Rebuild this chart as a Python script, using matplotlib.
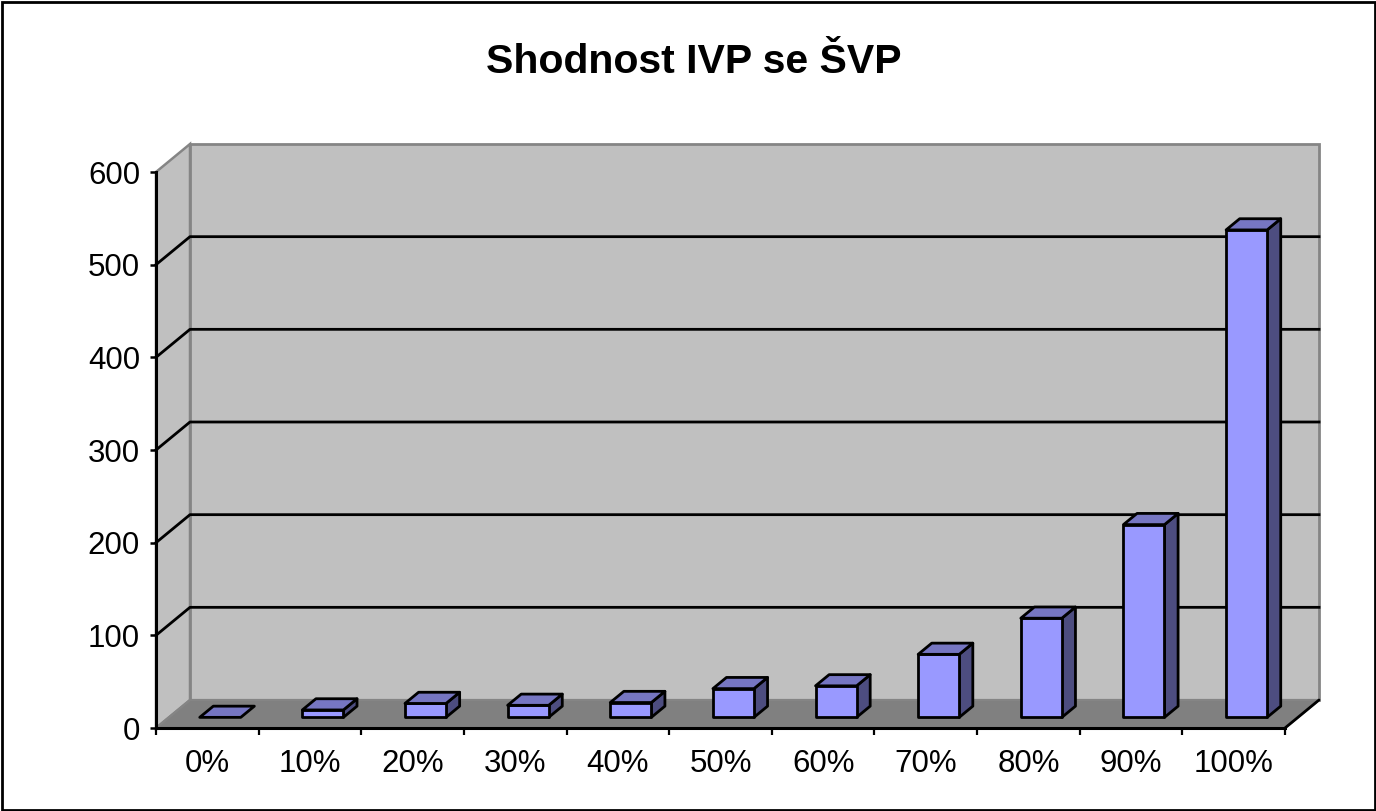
import matplotlib
matplotlib.use("Agg")
import matplotlib.pyplot as plt
from matplotlib.patches import Polygon, Rectangle

# ---- data ----
categories = ["0%", "10%", "20%", "30%", "40%", "50%", "60%", "70%", "80%", "90%", "100%"]
values = [0, 8, 15, 13, 16, 31, 34, 68, 107, 208, 526]
y_ticks = [0, 100, 200, 300, 400, 500, 600]
title = "Shodnost IVP se ŠVP"

# ---- style ----
plt.rcParams['font.family'] = ['Liberation Sans', 'DejaVu Sans']
W, H = 1376, 811
FRONT_C = "#9999FF"
TOP_C = "#7676C2"
SIDE_C = "#4D4D80"
WALL_C = "#C0C0C0"
FLOOR_C = "#808080"
EDGE_GRAY = "#858585"

fig = plt.figure(figsize=(W / 100, H / 100), dpi=100)
fig.patch.set_facecolor("white")

# front plane of the plot in pixels
x0, x1, ytop, ybot = 156, 1285, 172, 728
ax = fig.add_axes([x0 / W, (H - ybot) / H, (x1 - x0) / W, (ybot - ytop) / H])
n = len(categories)
ymax = y_ticks[-1]
ax.set_xlim(0, n)
ax.set_ylim(0, ymax)
ax.set_facecolor("none")

# depth offset (pixels -> data units)
px_per_cat = (x1 - x0) / n
px_per_val = (ybot - ytop) / ymax
DX = 34 / px_per_cat
DY = 28 / px_per_val

# walls
left_wall = Polygon([(0, 0), (0, ymax), (DX, ymax + DY), (DX, DY)], closed=True,
                    facecolor=WALL_C, edgecolor=EDGE_GRAY, lw=1.8, clip_on=False, zorder=1)
back_wall = Polygon([(DX, DY), (DX, ymax + DY), (n + DX, ymax + DY), (n + DX, DY)], closed=True,
                    facecolor=WALL_C, edgecolor=EDGE_GRAY, lw=2.0, clip_on=False, zorder=1)
floor = Polygon([(0, 0), (n, 0), (n + DX, DY), (DX, DY)], closed=True,
                facecolor=FLOOR_C, edgecolor=EDGE_GRAY, lw=1.6, clip_on=False, zorder=1.5)
for p in (left_wall, back_wall, floor):
    ax.add_patch(p)
ax.plot([n, n + DX], [0, DY], color="black", lw=2.0, clip_on=False, zorder=2,
        solid_capstyle="round")

# gridlines
for v in y_ticks[1:-1]:
    ax.plot([0, DX, n + DX], [v, v + DY, v + DY], color="black", lw=2.0,
            clip_on=False, zorder=2)

# bars
f0, f1 = 0.38, 0.78
bw = 0.4
for i, v in enumerate(values):
    xl = i + 0.5 - bw / 2 + f0 * DX
    xr = xl + bw
    yb = f0 * DY
    yt = v + f0 * DY
    ddx = (f1 - f0) * DX
    ddy = (f1 - f0) * DY
    kw = dict(closed=True, edgecolor="black", lw=2.0, joinstyle="round",
              clip_on=False, zorder=3 + i * 0.01)
    if v > 0:
        ax.add_patch(Polygon([(xr, yb), (xr + ddx, yb + ddy), (xr + ddx, yt + ddy), (xr, yt)],
                             facecolor=SIDE_C, **kw))
        ax.add_patch(Polygon([(xl, yb), (xr, yb), (xr, yt), (xl, yt)],
                             facecolor=FRONT_C, **kw))
    ax.add_patch(Polygon([(xl, yt), (xr, yt), (xr + ddx, yt + ddy), (xl + ddx, yt + ddy)],
                         facecolor=TOP_C, **kw))

# axes / ticks
for s in ("top", "right"):
    ax.spines[s].set_visible(False)
for s in ("left", "bottom"):
    ax.spines[s].set_color("black")
    ax.spines[s].set_linewidth(2.2)
    ax.spines[s].set_zorder(4)
ax.set_yticks(y_ticks)
ax.set_yticklabels([str(t) for t in y_ticks], fontsize=22.5)
ax.tick_params(axis="y", direction="out", length=4.5, width=1.8, pad=7)
ax.set_xticks(range(n + 1))
ax.set_xticklabels([""] * (n + 1))
ax.tick_params(axis="x", which="major", direction="out", length=5, width=1.6)
ax.set_xticks([i + 0.5 for i in range(n)], minor=True)
ax.set_xticklabels(categories, minor=True, fontsize=22.5)
ax.tick_params(axis="x", which="minor", length=0, pad=15)

# title
fig.text(694 / W, 1 - 62 / H, title, ha="center", va="center",
         fontsize=29.5, fontweight="bold")

# figure border
fig.patches.append(Rectangle((1.5 / W, 1.5 / H), (W - 3) / W, (H - 3) / H,
                             transform=fig.transFigure, fill=False,
                             edgecolor="black", lw=2.0))

fig.savefig("out.png", dpi=100)
